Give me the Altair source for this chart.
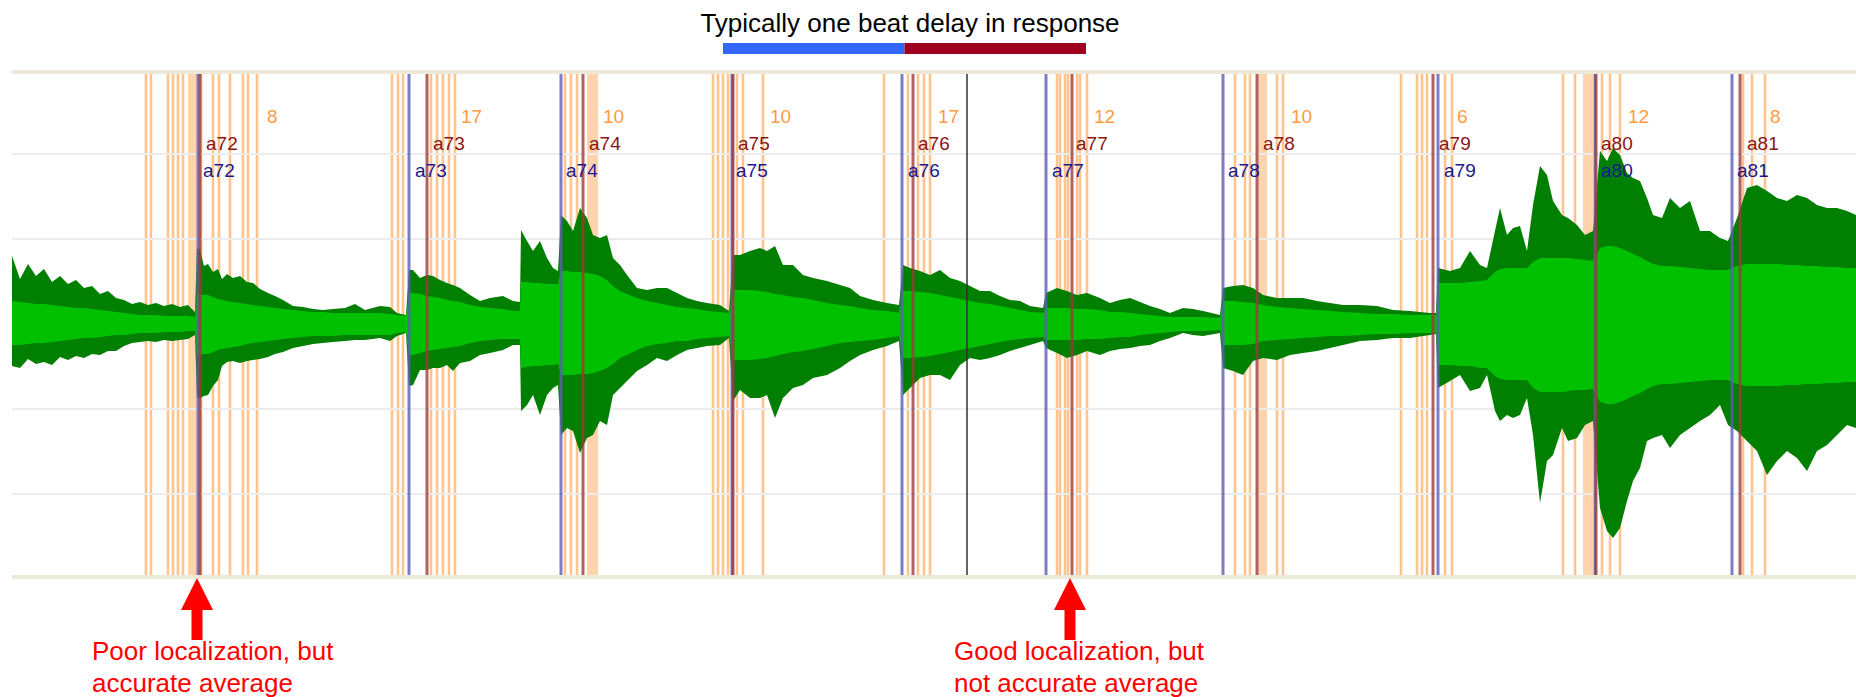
import altair as alt
import pandas as pd

# ---------------- waveform envelope ----------------
# time position along the recording (screen time units)
t_vals = [
    12, 20, 28, 36, 44, 52, 60, 68, 76, 84, 92, 100, 108, 116, 124, 132, 140, 148, 156, 164, 172, 180, 188, 195,
    197, 200, 204, 208, 213, 218, 222, 227, 233, 240, 247, 253, 260, 268, 275, 283, 293, 303, 313, 323, 333, 345, 355, 365, 380,
    390, 397, 406, 409, 413, 420, 427, 433, 440, 447, 453, 460, 470, 480, 490, 503, 513, 520,
    521, 527, 533, 540, 547, 553, 558,
    561, 567, 573, 580, 587, 593, 600, 607, 613, 620, 627, 637, 647, 657, 667, 677, 687, 697, 707, 720, 729,
    733, 740, 750, 760, 767, 775, 783, 793, 803, 813, 827, 840, 850, 860, 873, 887, 899,
    903, 910, 920, 930, 940, 950, 960, 970, 980, 990, 1000, 1010, 1020, 1030, 1043,
    1046, 1057, 1067, 1077, 1087, 1100, 1110, 1120, 1130, 1140, 1150, 1160, 1170, 1183, 1193, 1203, 1220,
    1223, 1233, 1243, 1253, 1263, 1277, 1290, 1303, 1317, 1330, 1343, 1360, 1377, 1393, 1410, 1430, 1436,
    1438, 1450, 1460, 1470, 1480, 1487,
    1495, 1500, 1507, 1513, 1520, 1527, 1533, 1540, 1547, 1553, 1562, 1568, 1577, 1585, 1593,
    1600, 1607, 1613, 1620, 1627, 1633, 1640, 1647, 1653, 1662, 1670, 1680, 1690, 1700, 1710, 1720, 1728,
    1737, 1747, 1757, 1767, 1777, 1787, 1797, 1807, 1817, 1827, 1837, 1847, 1856,
]
# positive peak amplitude
peak_hi = [
    68, 45, 60, 48, 55, 42, 48, 40, 44, 36, 38, 30, 33, 26, 24, 20, 22, 19, 21, 18, 20, 17, 19, 12,
    76, 74, 58, 60, 52, 55, 45, 50, 46, 48, 42, 41, 35, 31, 28, 24, 18, 17, 15, 14, 15, 16, 20, 14, 18,
    17, 11, 9, 54, 54, 46, 49, 48, 44, 41, 39, 36, 29, 23, 26, 28, 23, 22,
    94, 83, 73, 83, 66, 56, 53,
    109, 103, 93, 116, 106, 89, 86, 89, 66, 59, 49, 36, 34, 36, 36, 31, 26, 23, 21, 19, 13,
    69, 69, 73, 76, 73, 78, 59, 59, 49, 46, 43, 39, 36, 28, 24, 21, 19,
    59, 56, 53, 49, 54, 46, 43, 38, 33, 33, 28, 24, 23, 18, 16,
    31, 36, 33, 29, 31, 26, 21, 24, 26, 22, 18, 15, 11, 16, 15, 13, 9,
    36, 38, 39, 36, 29, 26, 26, 26, 23, 21, 19, 19, 18, 14, 13, 11, 11,
    56, 53, 56, 73, 59, 56,
    93, 116, 89, 96, 98, 73, 119, 158, 149, 123, 109, 106, 99, 89, 93,
    173, 163, 176, 169, 151, 146, 143, 126, 109, 106, 126, 116, 123, 93, 93, 86, 83,
    106, 136, 139, 133, 126, 123, 129, 126, 119, 116, 116, 113, 109,
]
# negative peak amplitude (magnitude)
peak_lo = [
    42, 44, 35, 40, 38, 41, 33, 36, 32, 34, 30, 31, 27, 27, 22, 19, 18, 17, 18, 16, 17, 16, 15, 11,
    74, 74, 72, 71, 62, 56, 42, 38, 37, 39, 37, 36, 35, 33, 30, 28, 24, 22, 20, 19, 18, 17, 16, 16, 14,
    17, 12, 9, 62, 61, 46, 46, 44, 44, 41, 47, 39, 37, 31, 29, 26, 21, 21,
    87, 81, 71, 91, 71, 64, 61,
    111, 104, 107, 129, 114, 111, 97, 101, 71, 64, 57, 47, 41, 34, 37, 31, 26, 24, 22, 21, 14,
    77, 66, 74, 74, 71, 94, 74, 64, 61, 54, 51, 44, 37, 31, 26, 22, 17,
    71, 64, 54, 51, 51, 56, 41, 34, 36, 34, 31, 27, 24, 21, 17,
    24, 29, 34, 31, 27, 31, 27, 25, 24, 22, 21, 17, 14, 9, 11, 12, 9,
    44, 47, 51, 37, 34, 36, 31, 29, 27, 24, 21, 17, 16, 14, 14, 11, 10,
    64, 57, 51, 67, 64, 51,
    87, 97, 91, 94, 91, 74, 111, 179, 137, 131, 104, 117, 114, 101, 97,
    184, 207, 214, 204, 177, 157, 144, 117, 114, 111, 124, 111, 104, 97, 91, 81, 101,
    107, 117, 127, 151, 137, 127, 134, 147, 127, 121, 111, 101, 104,
]
# rms band, upper and lower
rms_hi = [
    23, 22, 21, 20, 20, 19, 18, 17, 16, 16, 15, 14, 13, 12, 11, 10, 9, 9, 9, 8, 8, 8, 8, 7,
    30, 30, 29, 29, 27, 25, 24, 23, 22, 21, 20, 19, 18, 17, 16, 15, 14, 13, 12, 12, 11, 11, 11, 11, 11,
    10, 9, 8, 31, 31, 30, 28, 27, 26, 24, 23, 22, 19, 17, 16, 15, 13, 13,
    42, 42, 41, 41, 40, 40, 40,
    53, 53, 52, 52, 51, 50, 48, 44, 38, 33, 30, 26, 23, 21, 19, 17, 16, 15, 13, 12, 11,
    34, 34, 34, 33, 32, 30, 29, 27, 26, 24, 21, 19, 18, 16, 14, 13, 11,
    33, 33, 32, 31, 29, 27, 25, 23, 21, 20, 18, 16, 14, 12, 11,
    16, 16, 16, 15, 15, 14, 12, 12, 11, 10, 9, 8, 7, 7, 7, 7, 6,
    23, 23, 22, 21, 19, 17, 16, 15, 14, 13, 12, 11, 10, 10, 9, 9, 9,
    41, 41, 41, 42, 43, 44,
    52, 55, 56, 56, 56, 56, 62, 66, 66, 66, 66, 66, 65, 64, 63,
    76, 78, 78, 76, 73, 70, 67, 63, 60, 58, 58, 57, 56, 55, 54, 54, 54,
    58, 60, 60, 60, 60, 59, 59, 58, 58, 57, 57, 56, 56,
]
rms_lo = [
    21, 21, 20, 19, 19, 18, 17, 16, 15, 14, 14, 13, 12, 11, 11, 10, 9, 9, 9, 8, 8, 8, 7, 7,
    31, 31, 30, 30, 28, 26, 25, 24, 23, 22, 20, 19, 18, 17, 16, 15, 14, 13, 12, 12, 12, 11, 11, 11, 11,
    11, 9, 8, 31, 31, 29, 27, 26, 25, 24, 23, 22, 19, 17, 16, 15, 15, 15,
    44, 43, 42, 42, 41, 41, 40,
    51, 51, 51, 50, 50, 49, 47, 44, 40, 34, 31, 26, 22, 20, 19, 17, 17, 15, 14, 13, 12,
    36, 36, 36, 35, 34, 32, 30, 28, 27, 25, 22, 19, 18, 17, 16, 14, 12,
    34, 34, 33, 32, 30, 28, 26, 24, 22, 20, 18, 16, 15, 14, 13,
    16, 16, 16, 16, 15, 15, 14, 13, 13, 11, 10, 9, 8, 7, 7, 7, 6,
    21, 21, 21, 20, 17, 16, 15, 14, 13, 12, 12, 11, 10, 10, 9, 9, 9,
    41, 41, 42, 42, 44, 44,
    52, 55, 56, 56, 56, 56, 64, 68, 68, 68, 68, 67, 66, 66, 65,
    78, 80, 80, 78, 75, 72, 69, 65, 62, 60, 60, 59, 58, 57, 56, 56, 56,
    60, 62, 62, 62, 62, 61, 61, 60, 60, 59, 59, 58, 58,
]

# ---------------- markers ----------------
onset_lines = [146, 151, 168, 173, 178, 183, 201, 213, 219, 230, 243, 248, 257,
               392, 398, 403, 431, 437, 443, 449, 455,
               565, 571, 577,
               713, 718, 723, 728, 737, 743, 763,
               884, 908, 918, 924, 930,
               1057, 1060, 1065, 1068, 1077, 1080, 1087,
               1235, 1245, 1250, 1277, 1283,
               1401, 1417, 1422, 1427, 1445, 1452,
               1563, 1575, 1602, 1610, 1620,
               1743, 1752, 1765]
band_start = [188, 587, 1258, 1583]
band_end = [197, 598, 1267, 1593]
beat_times = [198, 409, 561, 732, 902, 1046, 1223, 1438, 1595, 1732]
response_times = [200, 427, 583, 733, 913, 1072, 1257, 1433, 1596, 1740]
cursor_time = [967]

beat_names = ["a72", "a73", "a74", "a75", "a76", "a77", "a78", "a79", "a80", "a81"]
counts = ["8", "17", "10", "10", "17", "12", "10", "6", "12", "8"]
count_pos = [267, 461, 603, 770, 938, 1094, 1291, 1457, 1628, 1770]
resp_label_pos = [206, 433, 589, 738, 918, 1076, 1263, 1439, 1601, 1747]
beat_label_pos = [203, 415, 566, 736, 908, 1052, 1228, 1444, 1601, 1737]

grid_vals = [-170, -85, 0, 85, 170]
title_text = "Typically one beat delay in response"
legend_start = [723, 904.5]
legend_end = [904.5, 1086]
legend_colors = ["#3366ff", "#a00020"]
arrow_pos = [197, 1070]
note_pos = [92, 954]
note_text = ["Poor localization, but\naccurate average", "Good localization, but\nnot accurate average"]

# ---------------- chart ----------------
XS = alt.Scale(domain=[12, 1856], nice=False, zero=False)
YS = alt.Scale(domain=[-253, 252], nice=False, zero=False)
FONT = "Liberation Sans"


def xq(f):
    return alt.X(f"{f}:Q", scale=XS, axis=None)


wave = pd.DataFrame({"t": t_vals, "hi": peak_hi, "lo": [-v for v in peak_lo],
                     "rhi": rms_hi, "rlo": [-v for v in rms_lo]})

grid = alt.Chart(pd.DataFrame({"g": grid_vals})).mark_rule(color="#ececec", strokeWidth=2).encode(
    y=alt.Y("g:Q", scale=YS, axis=None))

bands = alt.Chart(pd.DataFrame({"s": band_start, "e": band_end})).mark_rect(color="#ffd4ac").encode(
    x=xq("s"), x2="e:Q", y=alt.value(0), y2=alt.value(505))

onsets = alt.Chart(pd.DataFrame({"t": onset_lines})).mark_rule(color="#ffc48e", strokeWidth=2.6).encode(
    x=xq("t"))

dark = alt.Chart(wave).mark_area(color="#007f00").encode(
    x=xq("t"), y=alt.Y("hi:Q", scale=YS, axis=None), y2="lo:Q")
light = alt.Chart(wave).mark_area(color="#00c000").encode(
    x=xq("t"), y=alt.Y("rhi:Q", scale=YS, axis=None), y2="rlo:Q")

beats = alt.Chart(pd.DataFrame({"t": beat_times})).mark_rule(color="#5c5cb8", strokeWidth=3, opacity=0.8).encode(
    x=xq("t"))
resps = alt.Chart(pd.DataFrame({"t": response_times})).mark_rule(color="#9c3a3a", strokeWidth=3, opacity=0.8).encode(
    x=xq("t"))
cursor = alt.Chart(pd.DataFrame({"t": cursor_time})).mark_rule(color="#303030", strokeWidth=1.5).encode(
    x=xq("t"))

borders = alt.Chart(pd.DataFrame({"b": [252, -253]})).mark_rule(color="#ece9d8", strokeWidth=4).encode(
    y=alt.Y("b:Q", scale=YS, axis=None))

count_lbl = alt.Chart(pd.DataFrame({"t": count_pos, "txt": counts})).mark_text(
    align="left", baseline="middle", font=FONT, fontSize=19, color="#ff9b40").encode(
    x=xq("t"), y=alt.value(45), text="txt:N")
resp_lbl = alt.Chart(pd.DataFrame({"t": resp_label_pos, "txt": beat_names})).mark_text(
    align="left", baseline="middle", font=FONT, fontSize=19, color="#8b1515").encode(
    x=xq("t"), y=alt.value(72), text="txt:N")
beat_lbl = alt.Chart(pd.DataFrame({"t": beat_label_pos, "txt": beat_names})).mark_text(
    align="left", baseline="middle", font=FONT, fontSize=19, color="#1a1a8c").encode(
    x=xq("t"), y=alt.value(99), text="txt:N")

title = alt.Chart(pd.DataFrame({"t": [910], "txt": [title_text]})).mark_text(
    align="center", baseline="alphabetic", font=FONT, fontSize=26, color="black").encode(
    x=xq("t"), y=alt.value(-40), text="txt:N")
legend_bar = alt.Chart(pd.DataFrame({"s": legend_start, "e": legend_end, "c": legend_colors})).mark_rect().encode(
    x=xq("s"), x2="e:Q", y=alt.value(-29), y2=alt.value(-18), color=alt.Color("c:N", scale=None))

shaft = alt.Chart(pd.DataFrame({"t": arrow_pos})).mark_rule(color="#ff0000", strokeWidth=11).encode(
    x=xq("t"), y=alt.value(538), y2=alt.value(568))
head = alt.Chart(pd.DataFrame({"t": arrow_pos})).mark_point(
    shape="M0,-1L1,1L-1,1Z", size=1024, filled=True, color="#ff0000", opacity=1, strokeWidth=0).encode(
    x=xq("t"), y=alt.value(522))
notes = alt.Chart(pd.DataFrame({"t": note_pos, "txt": note_text})).mark_text(
    align="left", baseline="alphabetic", font=FONT, fontSize=26, color="#ff0000",
    lineBreak="\n", lineHeight=32).encode(
    x=xq("t"), y=alt.value(588), text="txt:N")

chart = alt.layer(
    bands, onsets, grid, dark, light, beats, resps, cursor, borders,
    count_lbl, resp_lbl, beat_lbl, title, legend_bar, shaft, head, notes,
).properties(
    width=1844, height=505,
    autosize=alt.AutoSizeParams(type="none"),
    padding={"left": 12, "top": 72, "right": 0, "bottom": 120},
    background="white",
).configure_view(stroke=None)

chart.save("out.html", embed_options={"renderer": "svg", "actions": False})
